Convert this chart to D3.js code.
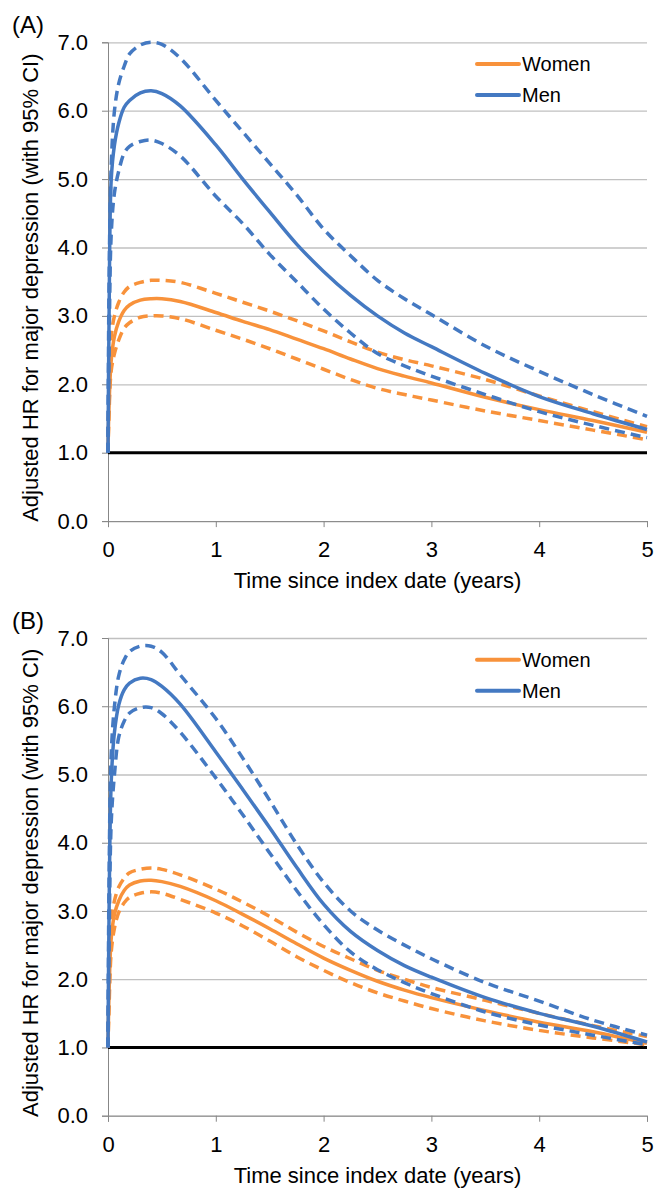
<!DOCTYPE html>
<html>
<head>
<meta charset="utf-8">
<script src="https://cdn.jsdelivr.net/npm/d3@7"></script>
<style>
  body { margin: 0; background: #fff; }
  svg { display: block; font-family: "Liberation Sans", Arial, Helvetica, sans-serif; }
</style>
</head>
<body>
<div id="chart"></div>
<script>
// years since index date (shared by every series)
const times = [0, 0.01, 0.03, 0.06, 0.1, 0.15, 0.2, 0.3, 0.4, 0.5, 0.67, 1.0, 1.25, 1.5, 1.75, 2.0, 2.25, 2.5, 2.75, 3.0, 3.5, 4.0, 4.5, 5.0]

const yTicks = [0, 1, 2, 3, 4, 5, 6, 7]
const xTicks = [0, 1, 2, 3, 4, 5]
const seriesNames = ['Women', 'Men']

// panel A
const aWomen      = [1.0, 1.7, 2.35, 2.7, 2.92, 3.08, 3.16, 3.23, 3.25, 3.25, 3.21, 3.05, 2.92, 2.8, 2.66, 2.52, 2.37, 2.23, 2.12, 2.02, 1.81, 1.63, 1.47, 1.30]
const aWomenUpper = [1.0, 1.9, 2.7, 3.0, 3.2, 3.35, 3.43, 3.49, 3.52, 3.52, 3.49, 3.33, 3.2, 3.07, 2.93, 2.78, 2.62, 2.47, 2.36, 2.27, 2.07, 1.83, 1.6, 1.38]
const aWomenLower = [1.0, 1.6, 2.2, 2.45, 2.65, 2.82, 2.9, 2.98, 3.0, 3.0, 2.96, 2.79, 2.66, 2.52, 2.37, 2.22, 2.07, 1.94, 1.85, 1.77, 1.61, 1.47, 1.33, 1.19]
const aMen        = [1.0, 3.0, 5.0, 5.5, 5.82, 6.05, 6.15, 6.26, 6.29, 6.25, 6.07, 5.5, 5.0, 4.52, 4.05, 3.65, 3.3, 3.0, 2.75, 2.55, 2.16, 1.82, 1.57, 1.34]
const aMenUpper   = [1.0, 3.5, 5.2, 6.0, 6.4, 6.65, 6.83, 6.96, 7.0, 6.97, 6.77, 6.15, 5.69, 5.23, 4.77, 4.27, 3.88, 3.52, 3.25, 3.02, 2.56, 2.19, 1.85, 1.53]
const aMenLower   = [1.0, 2.5, 4.2, 4.8, 5.12, 5.38, 5.48, 5.55, 5.57, 5.52, 5.34, 4.75, 4.35, 3.9, 3.5, 3.1, 2.75, 2.45, 2.27, 2.12, 1.85, 1.6, 1.4, 1.22]

// panel B
const bWomen      = [1.0, 1.8, 2.6, 2.95, 3.15, 3.3, 3.38, 3.44, 3.45, 3.43, 3.36, 3.15, 2.95, 2.74, 2.52, 2.31, 2.13, 1.97, 1.84, 1.73, 1.54, 1.37, 1.23, 1.06]
const bWomenUpper = [1.0, 2.0, 2.8, 3.15, 3.35, 3.48, 3.56, 3.61, 3.63, 3.61, 3.53, 3.32, 3.13, 2.92, 2.69, 2.48, 2.3, 2.13, 2.0, 1.88, 1.69, 1.5, 1.32, 1.16]
const bWomenLower = [1.0, 1.6, 2.4, 2.75, 2.98, 3.12, 3.2, 3.26, 3.28, 3.26, 3.17, 2.97, 2.78, 2.56, 2.33, 2.13, 1.95, 1.8, 1.68, 1.57, 1.39, 1.25, 1.14, 1.04]
const bMen        = [1.0, 3.0, 4.9, 5.62, 6.02, 6.24, 6.34, 6.41, 6.39, 6.29, 6.03, 5.33, 4.78, 4.22, 3.64, 3.1, 2.7, 2.42, 2.2, 2.03, 1.73, 1.5, 1.31, 1.08]
const bMenUpper   = [1.0, 3.5, 5.3, 6.0, 6.45, 6.68, 6.8, 6.88, 6.88, 6.79, 6.46, 5.82, 5.24, 4.62, 3.98, 3.42, 3.0, 2.72, 2.5, 2.3, 1.95, 1.68, 1.4, 1.18]
const bMenLower   = [1.0, 2.5, 4.3, 5.0, 5.55, 5.78, 5.9, 5.98, 5.98, 5.89, 5.62, 4.95, 4.41, 3.85, 3.3, 2.8, 2.4, 2.14, 1.95, 1.79, 1.52, 1.33, 1.18, 1.04]

const orange = '#f8923b'
const blue = '#4479c2'
const width = 654
const height = 1188

const panels = [
  {label: '(A)', top: 42.3, bottom: 521.1, lines: [
    {values: aWomenLower, color: orange, dash: true},
    {values: aWomenUpper, color: orange, dash: true},
    {values: aWomen, color: orange, dash: false},
    {values: aMenLower, color: blue, dash: true},
    {values: aMenUpper, color: blue, dash: true},
    {values: aMen, color: blue, dash: false}]},
  {label: '(B)', top: 638, bottom: 1115.7, lines: [
    {values: bWomenLower, color: orange, dash: true},
    {values: bWomenUpper, color: orange, dash: true},
    {values: bWomen, color: orange, dash: false},
    {values: bMenLower, color: blue, dash: true},
    {values: bMenUpper, color: blue, dash: true},
    {values: bMen, color: blue, dash: false}]}
]

const left = 108, right = 647

const x = d3.scaleLinear().domain([0, 5]).range([left, right])

const svg = d3.select('#chart').append('svg')
    .attr('width', width)
    .attr('height', height)
    .attr('viewBox', [0, 0, width, height])

panels.forEach(p => {
  const y = d3.scaleLinear().domain([0, 7]).range([p.bottom, p.top])
  const g = svg.append('g')

  // gridlines
  g.append('g')
      .attr('transform', `translate(${left},0)`)
      .call(d3.axisLeft(y).tickValues(yTicks).tickSize(-(right - left)).tickFormat(''))
      .call(g => g.select('.domain').remove())
      .call(g => g.selectAll('line').attr('stroke', '#c0c0c0').attr('stroke-width', 1.3))

  // y axis
  g.append('g')
      .attr('transform', `translate(${left},0)`)
      .call(d3.axisLeft(y).tickValues(yTicks).tickFormat(d3.format('.1f')).tickSize(6).tickPadding(14))
      .call(g => g.selectAll('.domain, line').attr('stroke', '#878787'))
      .call(g => g.selectAll('text').attr('font-size', 22).attr('fill', '#000'))

  // x axis
  g.append('g')
      .attr('transform', `translate(0,${p.bottom})`)
      .call(d3.axisBottom(x).tickValues(xTicks).tickFormat(d3.format('d')).tickSize(6).tickPadding(14.5))
      .call(g => g.selectAll('.domain, line').attr('stroke', '#878787'))
      .call(g => g.selectAll('text').attr('font-size', 22).attr('fill', '#000'))

  // reference line HR = 1
  g.append('line')
      .attr('x1', x(0)).attr('x2', x(5))
      .attr('y1', y(1)).attr('y2', y(1))
      .attr('stroke', '#000').attr('stroke-width', 3)

  const line = d3.line()
      .x((d, i) => x(times[i]))
      .y(d => y(d))
      .curve(d3.curveCatmullRom.alpha(0.5))

  g.selectAll('path.series')
    .data(p.lines)
    .join('path')
      .attr('class', 'series')
      .attr('fill', 'none')
      .attr('stroke', d => d.color)
      .attr('stroke-width', 3.5)
      .attr('stroke-dasharray', d => d.dash ? '10,6' : null)
      .attr('d', d => line(d.values))

  // legend
  const leg = g.append('g')
  seriesNames.forEach((name, i) => {
    const ly = p.top + 21.7 + i * 31
    leg.append('line')
        .attr('x1', 477).attr('x2', 519)
        .attr('y1', ly).attr('y2', ly)
        .attr('stroke', i === 0 ? orange : blue).attr('stroke-width', 4)
        .attr('stroke-linecap', 'round')
    leg.append('text')
        .attr('x', 522).attr('y', ly)
        .attr('dy', '0.35em')
        .attr('font-size', 20)
        .text(name)
  })

  // panel label
  g.append('text')
      .attr('x', 12).attr('y', p.top - 9.5)
      .attr('font-size', 24)
      .text(p.label)

  // axis titles
  g.append('text')
      .attr('transform', `translate(37.5,${(p.top + p.bottom) / 2 + 6}) rotate(-90)`)
      .attr('text-anchor', 'middle')
      .attr('font-size', 22)
      .text('Adjusted HR for major depression (with 95% CI)')

  g.append('text')
      .attr('x', (left + right) / 2)
      .attr('y', p.bottom + 67)
      .attr('text-anchor', 'middle')
      .attr('font-size', 22)
      .text('Time since index date (years)')
})
</script>
</body>
</html>
